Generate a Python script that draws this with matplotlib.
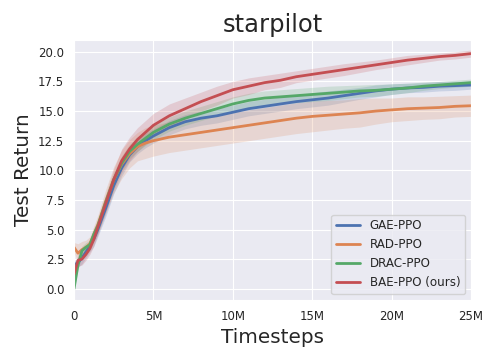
import numpy as np
import matplotlib
matplotlib.use("Agg")
import matplotlib.pyplot as plt
import seaborn as sns
from matplotlib.ticker import FuncFormatter

sns.set_style("darkgrid")
plt.rcParams['font.family'] = ['DejaVu Sans']

steps_m = [0, 0.25, 0.5, 0.75, 1, 1.25, 1.5, 2, 2.5, 3, 3.5, 4, 4.5, 5, 6, 7, 8, 9, 10,
           11, 12, 13, 14, 15, 16, 17, 18, 19, 20, 21, 22, 23, 24, 25]

gae = [2.0, 2.2, 2.6, 3.1, 3.6, 4.2, 5.0, 6.8, 8.7, 10.2, 11.3, 12.0, 12.5, 12.9, 13.6, 14.1,
       14.4, 14.6, 14.9, 15.2, 15.4, 15.6, 15.8, 15.95, 16.1, 16.3, 16.5, 16.7, 16.85, 16.95,
       17.0, 17.1, 17.15, 17.2]
rad = [3.5, 3.0, 3.3, 3.5, 3.8, 4.6, 5.4, 7.4, 9.2, 10.5, 11.4, 12.0, 12.3, 12.5, 12.8, 13.0,
       13.2, 13.4, 13.6, 13.8, 14.0, 14.2, 14.4, 14.55, 14.65, 14.75, 14.85, 15.0, 15.1, 15.2,
       15.25, 15.3, 15.4, 15.45]
drac = [0.0, 2.0, 3.2, 3.5, 3.7, 4.6, 5.3, 7.3, 9.2, 10.6, 11.6, 12.2, 12.7, 13.2, 13.9, 14.4,
        14.8, 15.2, 15.6, 15.9, 16.1, 16.2, 16.3, 16.4, 16.5, 16.6, 16.7, 16.75, 16.85, 16.95,
        17.1, 17.2, 17.3, 17.4]
bae = [1.2, 2.4, 2.5, 2.9, 3.4, 4.2, 5.2, 7.2, 9.2, 10.8, 11.8, 12.6, 13.2, 13.8, 14.6, 15.2,
       15.8, 16.3, 16.8, 17.1, 17.4, 17.6, 17.9, 18.1, 18.3, 18.5, 18.7, 18.9, 19.1, 19.3,
       19.45, 19.6, 19.7, 19.85]

gae_sd = [0.3, 0.4, 0.5, 0.5, 0.5, 0.6, 0.6, 0.7, 0.7, 0.7, 0.6, 0.6, 0.6, 0.6, 0.6, 0.6,
          0.6, 0.6, 0.6, 0.6, 0.6, 0.6, 0.6, 0.6, 0.6, 0.55, 0.5, 0.5, 0.45, 0.4, 0.4, 0.4, 0.4, 0.35]
rad_sd = [0.4, 0.8, 0.7, 0.6, 0.6, 0.7, 0.8, 1.0, 1.1, 1.2, 1.2, 1.2, 1.3, 1.3, 1.3, 1.3,
          1.3, 1.3, 1.3, 1.3, 1.3, 1.3, 1.3, 1.3, 1.25, 1.2, 1.2, 1.1, 1.0, 1.0, 0.95, 0.95, 0.9, 0.9]
drac_sd = [0.1, 0.4, 0.4, 0.4, 0.4, 0.5, 0.5, 0.6, 0.6, 0.6, 0.6, 0.6, 0.6, 0.6, 0.6, 0.6,
           0.6, 0.6, 0.6, 0.6, 0.6, 0.6, 0.6, 0.6, 0.6, 0.55, 0.5, 0.5, 0.45, 0.4, 0.35, 0.3, 0.3, 0.3]
bae_sd = [0.3, 0.5, 0.5, 0.5, 0.5, 0.6, 0.6, 0.8, 0.9, 1.0, 1.0, 1.0, 1.0, 1.0, 1.0, 0.9,
          0.8, 0.8, 0.7, 0.7, 0.6, 0.6, 0.5, 0.5, 0.5, 0.5, 0.45, 0.4, 0.4, 0.4, 0.35, 0.3, 0.3, 0.3]

labels = ["GAE-PPO", "RAD-PPO", "DRAC-PPO", "BAE-PPO (ours)"]
colors = ["#4C72B0", "#DD8452", "#55A868", "#C44E52"]

fig = plt.figure(figsize=(4.98, 3.6), dpi=100)
ax = fig.add_axes([74/498, 1-300/360, (471-74)/498, 260/360])

x = np.array(steps_m) * 1e6
for y, sd, lab, c in zip([gae, rad, drac, bae], [gae_sd, rad_sd, drac_sd, bae_sd], labels, colors):
    y = np.array(y); sd = np.array(sd)
    ax.fill_between(x, y - sd, y + sd, color=c, alpha=0.2, linewidth=0)
    ax.plot(x, y, color=c, lw=2, label=lab)

ax.set_xlim(0, 25e6)
ax.set_ylim(-0.95, 21.0)
ax.set_xticks([0, 5e6, 10e6, 15e6, 20e6, 25e6])
ax.xaxis.set_major_formatter(FuncFormatter(lambda v, p: "0" if v == 0 else f"{int(v/1e6)}M"))
ax.set_yticks([0, 2.5, 5, 7.5, 10, 12.5, 15, 17.5, 20])
ax.yaxis.set_major_formatter(FuncFormatter(lambda v, p: f"{v:.1f}"))
ax.tick_params(labelsize=8.5, colors="#262626")
ax.set_title("starpilot", fontsize=17.5, color="#262626")
ax.set_xlabel("Timesteps", fontsize=14.4, color="#262626")
ax.set_ylabel("Test Return", fontsize=14.4, color="#262626")
leg = ax.legend(loc="lower right", fontsize=8.6)

fig.savefig("out.png", dpi=100)
